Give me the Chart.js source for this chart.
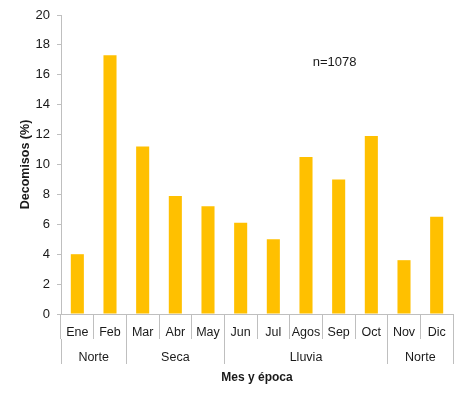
<!DOCTYPE html>
<html>
<head>
<meta charset="utf-8">
<script src="https://cdn.jsdelivr.net/npm/chart.js@4"></script>
<style>
  html, body { margin: 0; padding: 0; background: #fff; }
</style>
</head>
<body>
<canvas id="barChart" width="467" height="399"></canvas>
<script>
// datos
const meses = ['Ene', 'Feb', 'Mar', 'Abr', 'May', 'Jun', 'Jul', 'Agos', 'Sep', 'Oct', 'Nov', 'Dic'];
const decomisos = [4.0, 17.3, 11.2, 7.9, 7.2, 6.1, 5.0, 10.5, 9.0, 11.9, 3.6, 6.5];
const epocas = ['Norte', 'Seca', 'Lluvia', 'Norte'];
const mesesPorEpoca = [2, 3, 5, 2];
const yMin = 0, yMax = 20, yPaso = 2;
const nota = 'n=1078';

const gris = '#bfbfbf';
const texto = '#1a1a1a';

Chart.defaults.font.family = '"Liberation Sans", Arial, sans-serif';
Chart.defaults.color = texto;

// ticks de la fila de epocas: limites y centros de cada grupo
const epocaTicks = [{ value: -0.5, label: '', limite: true }];
let inicio = -0.5;
epocas.forEach(function (e, i) {
    const fin = inicio + mesesPorEpoca[i];
    epocaTicks.push({ value: (inicio + fin) / 2, label: e, limite: false });
    epocaTicks.push({ value: fin, label: '', limite: true });
    inicio = fin;
});

const notaPlugin = {
    id: 'nota',
    afterDraw: function (chart) {
        const ctx = chart.ctx;
        const x = chart.scales.x.getPixelForValue(meses.indexOf('Sep')) - 4;
        const y = chart.scales.y.getPixelForValue(16.8);
        ctx.save();
        ctx.font = '13px "Liberation Sans", Arial, sans-serif';
        ctx.fillStyle = texto;
        ctx.textAlign = 'center';
        ctx.textBaseline = 'middle';
        ctx.fillText(nota, x, y);
        ctx.restore();
    }
};

const barCtx = document.getElementById('barChart').getContext('2d');
const barChart = new Chart(barCtx, {
    type: 'bar',
    data: {
        labels: meses,
        datasets: [{
            label: 'Decomisos (%)',
            data: decomisos,
            backgroundColor: '#ffc000',
            borderWidth: 0,
            categoryPercentage: 1,
            barPercentage: 0.4,
            xAxisID: 'x',
            yAxisID: 'y'
        }]
    },
    options: {
        responsive: false,
        animation: false,
        layout: { padding: { left: 0, right: 14, top: 15, bottom: 0 } },
        plugins: {
            legend: { display: false },
            tooltip: { enabled: false }
        },
        scales: {
            y: {
                min: yMin,
                max: yMax,
                ticks: { stepSize: yPaso, padding: 7, font: { size: 13 } },
                grid: { drawOnChartArea: false, tickLength: 4, color: gris },
                border: { color: gris },
                title: { display: true, text: 'Decomisos (%)', font: { size: 12.5, weight: 'bold' }, padding: { top: 18, bottom: 0 } },
                afterFit: function (scale) { scale.width = 61; }
            },
            x: {
                position: 'bottom',
                weight: 0,
                offset: true,
                ticks: { padding: -14, maxRotation: 0, autoSkip: false, font: { size: 12.5 } },
                grid: { drawOnChartArea: false, offset: true, tickLength: 25, color: gris },
                border: { color: gris },
                afterFit: function (scale) { scale.height = 25; }
            },
            epoca: {
                type: 'linear',
                position: 'bottom',
                weight: 1,
                min: -0.5,
                max: meses.length - 0.5,
                offset: false,
                afterBuildTicks: function (scale) {
                    scale.ticks = epocaTicks.map(function (t) { return { value: t.value }; });
                },
                ticks: {
                    padding: -14,
                    maxRotation: 0,
                    autoSkip: false,
                    font: { size: 12.5 },
                    callback: function (value, i) { return epocaTicks[i] ? epocaTicks[i].label : ''; }
                },
                grid: {
                    drawOnChartArea: false,
                    offset: false,
                    tickLength: 25,
                    color: function (c) { return epocaTicks[c.index] && epocaTicks[c.index].limite ? gris : 'rgba(0,0,0,0)'; }
                },
                border: { display: false },
                title: { display: true, text: 'Mes y época', font: { size: 12, weight: 'bold' }, padding: { top: 0, bottom: 14 } },
                afterFit: function (scale) { scale.height = 60; }
            }
        }
    },
    plugins: [notaPlugin]
});
</script>
</body>
</html>
